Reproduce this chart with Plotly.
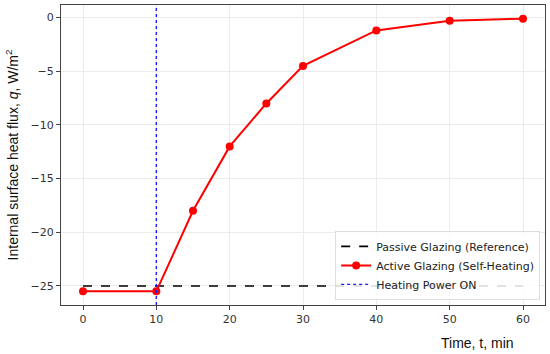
import plotly.graph_objects as go

time_active = [0, 10, 15, 20, 25, 30, 40, 50, 60]
q_active = [-25.5, -25.5, -18, -12, -8, -4.5, -1.2, -0.3, -0.1]
time_passive = [0, 60]
q_passive = [-25, -25]
heating_on_t = 10
x_ticks = [0, 10, 20, 30, 40, 50, 60]
y_ticks = [0, -5, -10, -15, -20, -25]

fig = go.Figure()
fig.add_trace(go.Scatter(x=time_passive, y=q_passive, mode="lines",
                         line=dict(color="black", dash="dash", width=1.6),
                         name="Passive Glazing (Reference)"))
fig.add_trace(go.Scatter(x=time_active, y=q_active, mode="lines+markers",
                         line=dict(color="#ff0000", width=2),
                         marker=dict(color="#ff0000", size=8),
                         name="Active Glazing (Self-Heating)"))
fig.add_trace(go.Scatter(x=[heating_on_t, heating_on_t], y=[-26.77, 1.17], mode="lines",
                         line=dict(color="#1a1aff", dash="dot", width=1.4),
                         name="Heating Power ON"))

axis_common = dict(showgrid=True, gridcolor="#ebebeb", gridwidth=1,
                   showline=True, linecolor="#444", linewidth=1, mirror=True,
                   ticks="outside", ticklen=4, tickcolor="#444",
                   tickfont=dict(size=11, color="#333", family="DejaVu Sans"),
                   zeroline=False, automargin=False)

fig.update_xaxes(range=[-3, 63], tickvals=x_ticks, **axis_common)
fig.update_yaxes(range=[-26.77, 1.17], tickvals=y_ticks,
                 ticktext=[str(v).replace("-", "\u2212") for v in y_ticks],
                 title=dict(text="Internal surface heat flux, <i>q</i>, W/m<sup>2</sup>",
                            font=dict(size=14, color="#111", family="Liberation Sans"),
                            standoff=8),
                 **axis_common)

fig.add_annotation(text="Time, t, min", xref="paper", yref="paper",
                   x=0.86, y=-0.127, xanchor="center", yanchor="middle", showarrow=False,
                   font=dict(size=14, color="#111", family="Liberation Sans"))

fig.update_layout(width=550, height=354, margin=dict(l=61, r=5, t=5, b=49),
                  plot_bgcolor="white", paper_bgcolor="white",
                  hovermode=False,
                  legend=dict(x=0.99, y=0.017, xanchor="right", yanchor="bottom",
                              bgcolor="rgba(255,255,255,0.85)", bordercolor="#ddd", borderwidth=1,
                              font=dict(size=11, color="#222", family="DejaVu Sans"),
                              tracegroupgap=0, itemwidth=30),
                  showlegend=True)

fig.write_html("out.html", config={"displayModeBar": False},
               post_script="document.body.style.margin='0';")
